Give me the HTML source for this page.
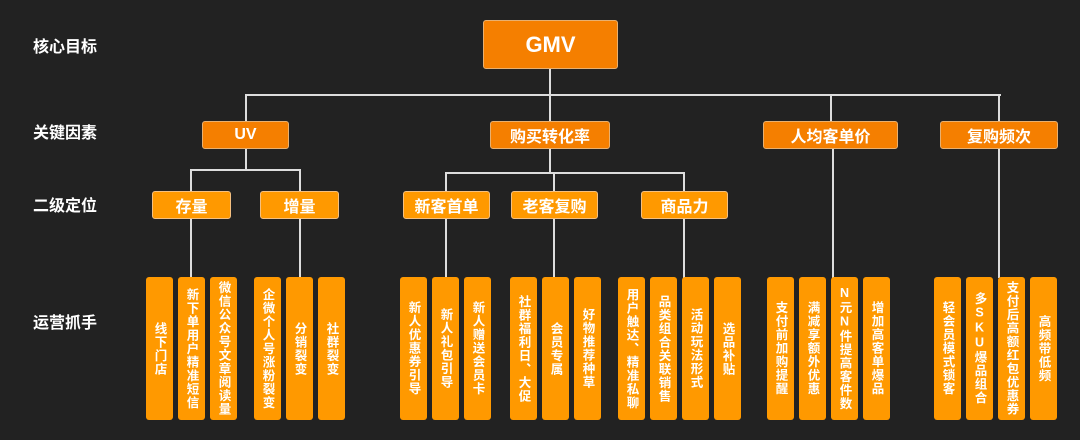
<!DOCTYPE html><html><head><meta charset="utf-8"><style>
body{margin:0;width:1080px;height:440px;background:#222;position:relative;overflow:hidden;font-family:"Liberation Sans","Noto Sans CJK SC",sans-serif;font-weight:bold;color:#fff}
.lab{position:absolute;left:33px;font-size:16px;line-height:20px}
.b{position:absolute;display:flex;align-items:center;justify-content:center;border-radius:3px;box-sizing:border-box;border:1px solid #e8b070}
.l1{background:#f57f00;font-size:16px}
.l2{background:#ff9900;font-size:16px;border-color:#f5c080}
.lf{position:absolute;top:277px;height:143px;width:27px;background:#ff9900;border-radius:3px;display:flex;align-items:center;justify-content:center;font-size:12.5px;line-height:16px}
.lf span{writing-mode:vertical-rl;text-orientation:upright;letter-spacing:1px}
.h{position:absolute;height:2px;background:#ddd}
.v{position:absolute;width:2px;background:#ddd}
</style></head><body>
<div class="lab" style="top:38px">核心目标</div>
<div class="lab" style="top:124px">关键因素</div>
<div class="lab" style="top:197px">二级定位</div>
<div class="lab" style="top:314px">运营抓手</div>

<div class="v" style="left:549px;top:68px;height:27px"></div>
<div class="h" style="left:245px;top:94px;width:756px"></div>
<div class="v" style="left:245px;top:94px;height:28px"></div>
<div class="v" style="left:549px;top:94px;height:28px"></div>
<div class="v" style="left:830px;top:94px;height:28px"></div>
<div class="v" style="left:998px;top:94px;height:28px"></div>

<div class="v" style="left:245px;top:148px;height:23px"></div>
<div class="h" style="left:190px;top:169px;width:111px"></div>
<div class="v" style="left:190px;top:169px;height:23px"></div>
<div class="v" style="left:299px;top:169px;height:23px"></div>
<div class="v" style="left:190px;top:218px;height:60px"></div>
<div class="v" style="left:299px;top:218px;height:60px"></div>

<div class="v" style="left:549px;top:148px;height:25px"></div>
<div class="h" style="left:445px;top:172px;width:240px"></div>
<div class="v" style="left:445px;top:172px;height:20px"></div>
<div class="v" style="left:553px;top:172px;height:20px"></div>
<div class="v" style="left:683px;top:172px;height:20px"></div>
<div class="v" style="left:445px;top:218px;height:60px"></div>
<div class="v" style="left:553px;top:218px;height:60px"></div>
<div class="v" style="left:683px;top:218px;height:60px"></div>

<div class="v" style="left:832px;top:148px;height:130px"></div>
<div class="v" style="left:998px;top:148px;height:130px"></div>

<div class="b l1" style="left:483px;top:20px;width:135px;height:49px;font-size:22px;background:#f57f00">GMV</div>
<div class="b l1" style="left:202px;top:121px;width:87px;height:28px">UV</div>
<div class="b l1" style="left:490px;top:121px;width:120px;height:28px">购买转化率</div>
<div class="b l1" style="left:763px;top:121px;width:135px;height:28px">人均客单价</div>
<div class="b l1" style="left:940px;top:121px;width:118px;height:28px">复购频次</div>

<div class="b l2" style="left:152px;top:191px;width:79px;height:28px">存量</div>
<div class="b l2" style="left:260px;top:191px;width:79px;height:28px">增量</div>
<div class="b l2" style="left:403px;top:191px;width:87px;height:28px">新客首单</div>
<div class="b l2" style="left:511px;top:191px;width:87px;height:28px">老客复购</div>
<div class="b l2" style="left:641px;top:191px;width:87px;height:28px">商品力</div>

<div class="lf" style="left:146px"><span>线下门店</span></div>
<div class="lf" style="left:178px"><span>新下单用户精准短信</span></div>
<div class="lf" style="left:210px"><span>微信公众号文章阅读量</span></div>
<div class="lf" style="left:254px"><span>企微个人号涨粉裂变</span></div>
<div class="lf" style="left:286px"><span>分销裂变</span></div>
<div class="lf" style="left:318px"><span>社群裂变</span></div>
<div class="lf" style="left:400px"><span>新人优惠券引导</span></div>
<div class="lf" style="left:432px"><span>新人礼包引导</span></div>
<div class="lf" style="left:464px"><span>新人赠送会员卡</span></div>
<div class="lf" style="left:510px"><span>社群福利日、大促</span></div>
<div class="lf" style="left:542px"><span>会员专属</span></div>
<div class="lf" style="left:574px"><span>好物推荐种草</span></div>
<div class="lf" style="left:618px"><span>用户触达、精准私聊</span></div>
<div class="lf" style="left:650px"><span>品类组合关联销售</span></div>
<div class="lf" style="left:682px"><span>活动玩法形式</span></div>
<div class="lf" style="left:714px"><span>选品补贴</span></div>
<div class="lf" style="left:767px"><span>支付前加购提醒</span></div>
<div class="lf" style="left:799px"><span>满减享额外优惠</span></div>
<div class="lf" style="left:831px"><span>N元N件提高客件数</span></div>
<div class="lf" style="left:863px"><span>增加高客单爆品</span></div>
<div class="lf" style="left:934px"><span>轻会员模式锁客</span></div>
<div class="lf" style="left:966px"><span>多SKU爆品组合</span></div>
<div class="lf" style="left:998px"><span>支付后高额红包优惠券</span></div>
<div class="lf" style="left:1030px"><span>高频带低频</span></div>
</body></html>
